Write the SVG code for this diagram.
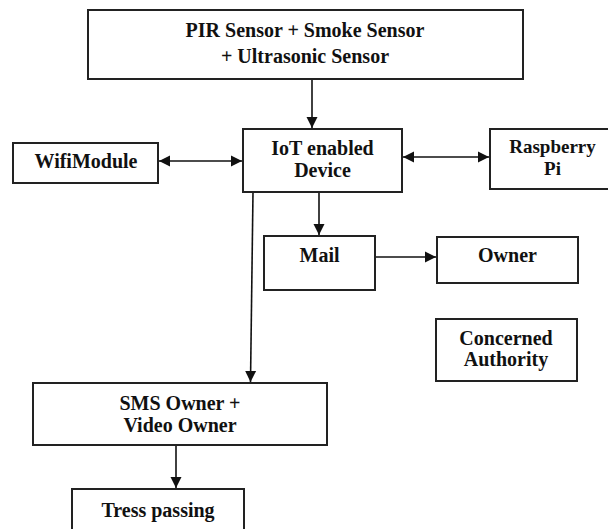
<svg xmlns="http://www.w3.org/2000/svg" width="608" height="529" viewBox="0 0 608 529">
<style>
.box{fill:#fff;stroke:#222;stroke-width:2}
.t{font-family:"Liberation Serif","Times New Roman",serif;font-size:20px;font-weight:bold;fill:#111;text-anchor:middle}
.ln{stroke:#111;stroke-width:1.6;fill:none}
</style>
<defs>
<marker id="ah" viewBox="0 0 10 10" refX="10" refY="5" markerWidth="11" markerHeight="12" markerUnits="userSpaceOnUse" orient="auto-start-reverse">
<path d="M0,0 L10,5 L0,10 z" fill="#111"/>
</marker>
</defs>
<rect width="608" height="529" fill="#fff"/>
<g id="connectors">
<line class="ln" x1="312" y1="79" x2="312" y2="128" marker-end="url(#ah)"/>
<line class="ln" x1="159" y1="161" x2="242" y2="161" marker-start="url(#ah)" marker-end="url(#ah)"/>
<line class="ln" x1="403" y1="157" x2="489" y2="157" marker-start="url(#ah)" marker-end="url(#ah)"/>
<line class="ln" x1="319" y1="192" x2="319" y2="235" marker-end="url(#ah)"/>
<line class="ln" x1="373" y1="257" x2="436" y2="257" marker-end="url(#ah)"/>
<line class="ln" x1="253" y1="192" x2="250.5" y2="382" marker-end="url(#ah)"/>
<line class="ln" x1="176" y1="445" x2="176" y2="488" marker-end="url(#ah)"/>
</g>
<g id="sensors"><rect class="box" x="88" y="10" width="435" height="69"/>
<text class="t" x="305" y="37">PIR Sensor + Smoke Sensor</text>
<text class="t" x="305" y="63">+ Ultrasonic Sensor</text></g>
<g id="iot"><rect class="box" x="243" y="129" width="159" height="63"/>
<text class="t" x="322.5" y="155">IoT enabled</text>
<text class="t" x="322.5" y="177">Device</text></g>
<g id="wifi"><rect class="box" x="13" y="143" width="145" height="40"/>
<text class="t" x="86" y="168">WifiModule</text></g>
<g id="raspberry"><rect class="box" x="490" y="129" width="125" height="60"/>
<text class="t" x="552.5" y="153" style="font-size:19px">Raspberry</text>
<text class="t" x="552.5" y="175" style="font-size:19px">Pi</text></g>
<g id="mail"><rect class="box" x="264" y="236" width="111" height="54"/>
<text class="t" x="319.5" y="262">Mail</text></g>
<g id="owner"><rect class="box" x="437" y="237" width="141" height="46"/>
<text class="t" x="507.5" y="262">Owner</text></g>
<g id="authority"><rect class="box" x="436" y="319" width="141" height="62"/>
<text class="t" x="506" y="345">Concerned</text>
<text class="t" x="506" y="366">Authority</text></g>
<g id="sms"><rect class="box" x="33" y="383" width="294" height="62"/>
<text class="t" x="180" y="410">SMS Owner +</text>
<text class="t" x="180" y="432">Video Owner</text></g>
<g id="tresspassing"><rect class="box" x="72" y="489" width="172" height="50"/>
<text class="t" x="158" y="517">Tress passing</text></g>
</svg>
